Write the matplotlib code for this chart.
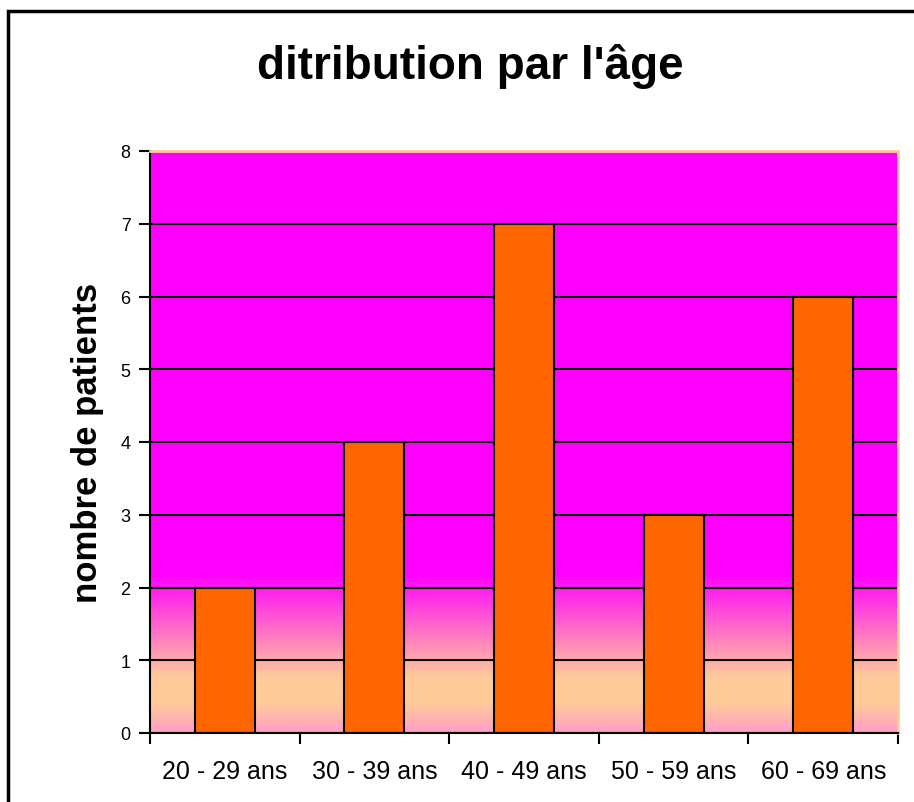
import numpy as np
import matplotlib.pyplot as plt
from matplotlib.colors import LinearSegmentedColormap
from matplotlib.patches import Rectangle

# data
categories = ['20 - 29 ans', '30 - 39 ans', '40 - 49 ans', '50 - 59 ans', '60 - 69 ans']
patients = [2, 4, 7, 3, 6]
y_ticks = [0, 1, 2, 3, 4, 5, 6, 7, 8]

plt.rcParams['font.family'] = ['Liberation Sans', 'DejaVu Sans']

fig = plt.figure(figsize=(9.14, 8.03), dpi=100)
ax = fig.add_axes([150 / 914, 1 - 734 / 803, (898 - 150) / 914, (734 - 152) / 803])

# gradient background (pink -> peach -> magenta)
grad_cmap = LinearSegmentedColormap.from_list('bg', [
    (0.0, '#FFA0C8'), (0.05, '#FFCC99'), (0.093, '#FFCC99'),
    (0.273, '#FF00FF'), (1.0, '#FF00FF')])
grad = np.linspace(0, 1, 512).reshape(-1, 1)
ax.imshow(grad, cmap=grad_cmap, aspect='auto', origin='lower',
          extent=(-0.5, len(categories) - 0.5, 0, 8), zorder=0)
ax.patch.set_facecolor('none')

x = np.arange(len(categories))
ax.bar(x, patients, width=0.4, color='#FF6600', edgecolor='black', linewidth=1.5, zorder=2)

ax.set_xlim(-0.5, len(categories) - 0.5)
ax.set_ylim(0, 8)
ax.set_yticks(y_ticks)
ax.set_yticklabels([str(v) for v in y_ticks], fontsize=13)
ax.set_axisbelow(True)
ax.yaxis.grid(True, color='black', linewidth=1.5)

# category ticks at boundaries, labels centred
ax.set_xticks(np.arange(len(categories) + 1) - 0.5)
ax.set_xticklabels([])
ax.set_xticks(x, minor=True)
ax.set_xticklabels(categories, minor=True, fontsize=18)
ax.tick_params(axis='x', which='minor', length=0, pad=19)
ax.tick_params(axis='both', which='major', length=8, width=1.5, color='black')
ax.tick_params(axis='y', pad=6)

for side in ['left', 'bottom']:
    ax.spines[side].set_color('black')
    ax.spines[side].set_linewidth(1.5)
for side in ['top', 'right']:
    ax.spines[side].set_color('#FFCC99')
    ax.spines[side].set_linewidth(2)

ax.set_ylabel('nombre de patients', fontsize=25, fontweight='bold', labelpad=0)
ax.yaxis.set_label_coords(-(150 - 104) / (898 - 150), 0.5)

fig.text(470 / 914, 1 - 79 / 803, "ditribution par l'âge", fontsize=33,
         fontweight='bold', ha='center', va='baseline')

# outer chart frame
fig.patches.append(Rectangle((8 / 914, -0.05), 1.2, (803 - 12) / 803 + 0.05,
                             transform=fig.transFigure, fill=False,
                             edgecolor='black', linewidth=2.5))

fig.savefig('out.png', dpi=100)
